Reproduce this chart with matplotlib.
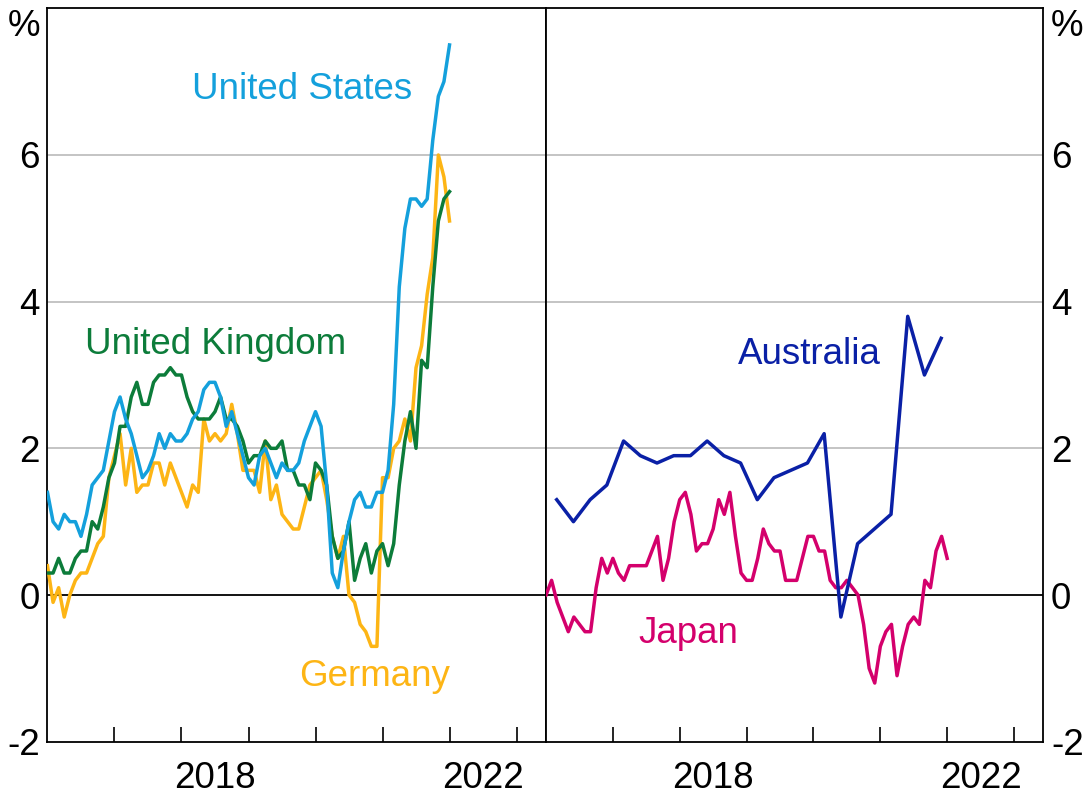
import numpy as np
import matplotlib.pyplot as plt

plt.rcParams['font.family'] = ['Liberation Sans', 'DejaVu Sans']

# year-ended inflation, monthly from Jan 2016 to Jan 2022
us = [1.4, 1.0, 0.9, 1.1, 1.0, 1.0, 0.8, 1.1, 1.5, 1.6, 1.7, 2.1,
      2.5, 2.7, 2.4, 2.2, 1.9, 1.6, 1.7, 1.9, 2.2, 2.0, 2.2, 2.1,
      2.1, 2.2, 2.4, 2.5, 2.8, 2.9, 2.9, 2.7, 2.3, 2.5, 2.2, 1.9,
      1.6, 1.5, 1.9, 2.0, 1.8, 1.6, 1.8, 1.7, 1.7, 1.8, 2.1, 2.3,
      2.5, 2.3, 1.5, 0.3, 0.1, 0.6, 1.0, 1.3, 1.4, 1.2, 1.2, 1.4,
      1.4, 1.7, 2.6, 4.2, 5.0, 5.4, 5.4, 5.3, 5.4, 6.2, 6.8, 7.0,
      7.5]
uk = [0.3, 0.3, 0.5, 0.3, 0.3, 0.5, 0.6, 0.6, 1.0, 0.9, 1.2, 1.6,
      1.8, 2.3, 2.3, 2.7, 2.9, 2.6, 2.6, 2.9, 3.0, 3.0, 3.1, 3.0,
      3.0, 2.7, 2.5, 2.4, 2.4, 2.4, 2.5, 2.7, 2.4, 2.4, 2.3, 2.1,
      1.8, 1.9, 1.9, 2.1, 2.0, 2.0, 2.1, 1.7, 1.7, 1.5, 1.5, 1.3,
      1.8, 1.7, 1.5, 0.8, 0.5, 0.6, 1.0, 0.2, 0.5, 0.7, 0.3, 0.6,
      0.7, 0.4, 0.7, 1.5, 2.1, 2.5, 2.0, 3.2, 3.1, 4.2, 5.1, 5.4,
      5.5]
germany = [0.4, -0.1, 0.1, -0.3, 0.0, 0.2, 0.3, 0.3, 0.5, 0.7, 0.8, 1.6,
           1.9, 2.2, 1.5, 2.0, 1.4, 1.5, 1.5, 1.8, 1.8, 1.5, 1.8, 1.6,
           1.4, 1.2, 1.5, 1.4, 2.4, 2.1, 2.2, 2.1, 2.2, 2.6, 2.2, 1.7,
           1.7, 1.7, 1.4, 2.1, 1.3, 1.5, 1.1, 1.0, 0.9, 0.9, 1.2, 1.5,
           1.6, 1.7, 1.3, 0.8, 0.5, 0.8, 0.0, -0.1, -0.4, -0.5, -0.7, -0.7,
           1.6, 1.6, 2.0, 2.1, 2.4, 2.1, 3.1, 3.4, 4.1, 4.6, 6.0, 5.7,
           5.1]
japan = [0.0, 0.2, -0.1, -0.3, -0.5, -0.3, -0.4, -0.5, -0.5, 0.1, 0.5, 0.3,
         0.5, 0.3, 0.2, 0.4, 0.4, 0.4, 0.4, 0.6, 0.8, 0.2, 0.5, 1.0,
         1.3, 1.4, 1.1, 0.6, 0.7, 0.7, 0.9, 1.3, 1.1, 1.4, 0.8, 0.3,
         0.2, 0.2, 0.5, 0.9, 0.7, 0.6, 0.6, 0.2, 0.2, 0.2, 0.5, 0.8,
         0.8, 0.6, 0.6, 0.2, 0.1, 0.1, 0.2, 0.1, 0.0, -0.4, -1.0, -1.2,
         -0.7, -0.5, -0.4, -1.1, -0.7, -0.4, -0.3, -0.4, 0.2, 0.1, 0.6, 0.8,
         0.5]
# quarterly, Mar qtr 2016 to Dec qtr 2021
australia = [1.3, 1.0, 1.3, 1.5, 2.1, 1.9, 1.8, 1.9, 1.9, 2.1, 1.9, 1.8,
             1.3, 1.6, 1.7, 1.8, 2.2, -0.3, 0.7, 0.9, 1.1, 3.8, 3.0, 3.5]

ytick_vals = [-2, 0, 2, 4, 6]
ytick_labels = ['-2', '0', '2', '4', '6']
year_ticks = list(range(2017, 2024))
year_labels = ['2018', '2022']

c_us = '#14a0dc'
c_uk = '#0c7c3a'
c_de = '#fdb515'
c_au = '#0a20a6'
c_jp = '#d4006c'

months = 2016 + np.arange(len(us)) / 12
quarters = 2016.16 + np.arange(len(australia)) / 4

fs = 26.5
fig = plt.figure(figsize=(10.84, 7.96), dpi=100)
ax1 = fig.add_axes([0.0438, 0.0682, 0.4599, 0.9214])
ax2 = fig.add_axes([0.5037, 0.0682, 0.4589, 0.9214])

for ax in (ax1, ax2):
    ax.set_xlim(2016, 2023.44)
    ax.set_ylim(-2, 8)
    ax.set_yticks(ytick_vals)
    ax.set_yticklabels(ytick_labels)
    ax.set_xticks(year_ticks)
    ax.set_xticklabels([])
    ax.set_xticks([int(y) + 0.5 for y in year_labels], minor=True)
    ax.set_xticklabels(year_labels, minor=True)
    ax.tick_params(axis='x', which='major', direction='in', length=10.8, width=1.2)
    ax.tick_params(axis='x', which='minor', length=0, pad=14, labelsize=fs)
    ax.tick_params(axis='y', length=0, pad=5.5, labelsize=fs)
    for g in ytick_vals[2:]:
        ax.axhline(g, color='#b4b4b4', lw=1.1, zorder=1)
    ax.axhline(0, color='black', lw=1.3, zorder=2)
    for s in ax.spines.values():
        s.set_linewidth(1.3)

ax2.yaxis.tick_right()

ax1.annotate('%', xy=(0, 7.62), xycoords=('axes fraction', 'data'), xytext=(-5.5, 0),
             textcoords='offset points', ha='right', va='baseline', fontsize=fs)
ax2.annotate('%', xy=(1, 7.62), xycoords=('axes fraction', 'data'), xytext=(5.5, 0),
             textcoords='offset points', ha='left', va='baseline', fontsize=fs)

lw = 2.5
ax1.plot(months, germany, color=c_de, lw=lw, zorder=3)
ax1.plot(months, uk, color=c_uk, lw=lw, zorder=3)
ax1.plot(months, us, color=c_us, lw=lw, zorder=3)
ax2.plot(months, japan, color=c_jp, lw=lw, zorder=3)
ax2.plot(quarters, australia, color=c_au, lw=lw, zorder=3)

ax1.text(2018.16, 6.76, 'United States', color=c_us, fontsize=fs, va='baseline')
ax1.text(2016.56, 3.28, 'United Kingdom', color=c_uk, fontsize=fs, va='baseline')
ax1.text(2019.76, -1.24, 'Germany', color=c_de, fontsize=fs, va='baseline')
ax2.text(2018.87, 3.15, 'Australia', color=c_au, fontsize=fs, va='baseline')
ax2.text(2017.38, -0.65, 'Japan', color=c_jp, fontsize=fs, va='baseline')

fig.savefig('out.png', dpi=100)
